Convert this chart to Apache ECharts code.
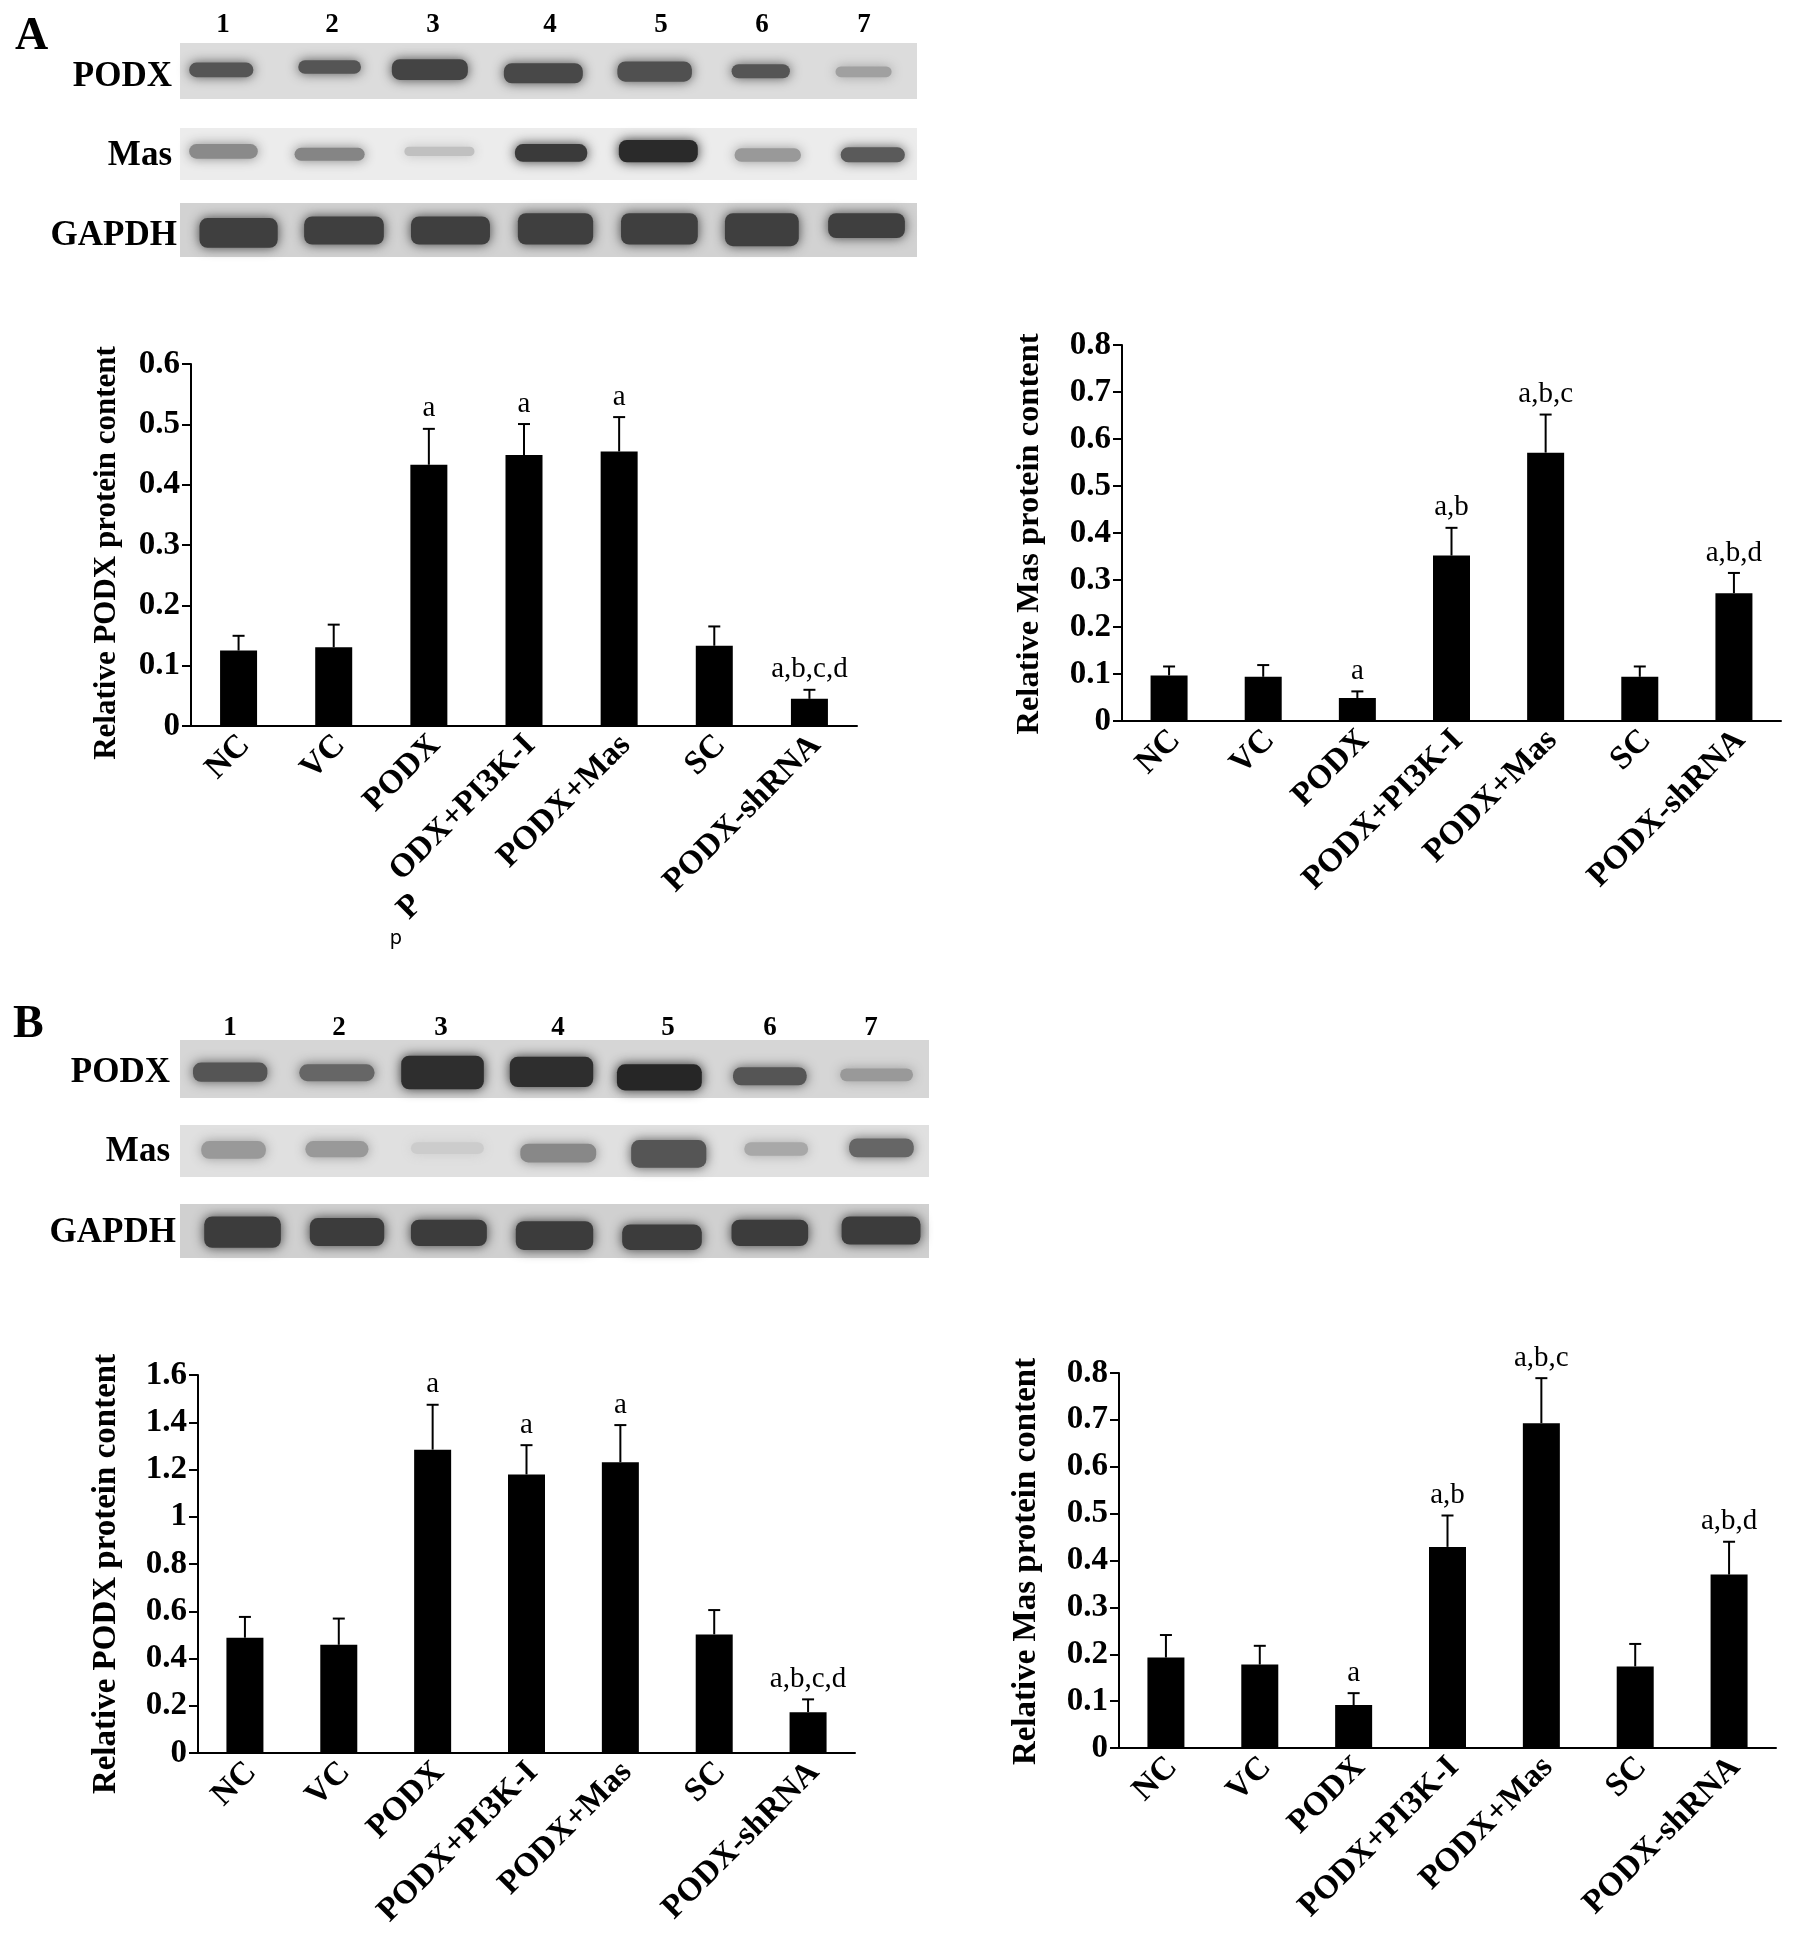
<!DOCTYPE html>
<html>
<head>
<meta charset="utf-8">
<title>PODX and Mas protein content</title>
<script src="https://cdn.jsdelivr.net/npm/echarts@6/dist/echarts.min.js"></script>
<style>
  html, body { margin: 0; padding: 0; background: #fff; }
  #main { width: 1795px; height: 1945px; }
</style>
</head>
<body>
<div id="main"></div>
<script>
// x axis labels
const categories = ['NC', 'VC', 'PODX', 'PODX+PI3K-I', 'PODX+Mas', 'SC', 'PODX-shRNA'];
// top left chart: the first letter of this label slipped away in the source picture
const categoriesA1 = ['NC', 'VC', 'PODX', 'ODX+PI3K-I', 'PODX+Mas', 'SC', 'PODX-shRNA'];

// panel A
const podxA = [0.125, 0.1305, 0.433, 0.449, 0.455, 0.133, 0.045];
const podxAErr = [0.1495, 0.168, 0.4925, 0.5005, 0.512, 0.165, 0.06];
const podxALetters = ['', '', 'a', 'a', 'a', '', 'a,b,c,d'];
const masA = [0.097, 0.094, 0.049, 0.352, 0.571, 0.094, 0.272];
const masAErr = [0.116, 0.119, 0.063, 0.411, 0.652, 0.116, 0.315];
const masALetters = ['', '', 'a', 'a,b', 'a,b,c', '', 'a,b,d'];

// panel B
const podxB = [0.488, 0.458, 1.284, 1.179, 1.231, 0.502, 0.173];
const podxBErr = [0.576, 0.569, 1.474, 1.303, 1.388, 0.605, 0.227];
const podxBLetters = ['', '', 'a', 'a', 'a', '', 'a,b,c,d'];
const masB = [0.193, 0.178, 0.0915, 0.429, 0.693, 0.174, 0.37];
const masBErr = [0.241, 0.218, 0.117, 0.496, 0.789, 0.222, 0.44];
const masBLetters = ['', '', 'a', 'a,b', 'a,b,c', '', 'a,b,d'];

// blot bands, in percent of the strip: [left, right, top, bottom, grey level]
const blotAPodx = [[0.7, 10.5, 35, 61, 85], [15.5, 25.1, 31, 55, 85], [28.2, 39.6, 29, 66, 68], [43.4, 55.2, 36, 72, 72], [58.8, 70, 33, 69, 80], [74.3, 83.3, 38, 63, 85], [88.4, 97.1, 42, 61, 160]];
const blotAMas = [[0.7, 11.1, 31, 59, 138], [15, 25.6, 38, 63, 133], [29.9, 40.5, 36, 54, 192], [44.9, 55.8, 31, 65, 58], [59, 70.8, 23, 66, 42], [74.7, 84.8, 39, 65, 153], [89.1, 98.9, 37, 66, 90]];
const blotAGapdh = [[2.1, 13.8, 28, 83, 63], [16.3, 28.2, 25, 77, 63], [30.8, 42.6, 25, 77, 63], [45.3, 56.6, 19, 77, 63], [59.3, 70.8, 19, 77, 63], [73.4, 84.5, 19, 80, 63], [87.4, 98.9, 19, 65, 63]];
const blotBPodx = [[1.2, 12.2, 39, 72, 85], [15.4, 26.5, 42, 71, 102], [29, 41.1, 27, 85, 46], [43.5, 55.7, 29, 81, 46], [57.8, 70.2, 42, 87, 38], [73.3, 84.2, 47, 78, 85], [87.6, 98.4, 49, 71, 153]];
const blotBMas = [[2.3, 12, 31, 65, 153], [16.2, 25.7, 31, 62, 153], [30.3, 41.1, 33, 56, 204], [44.9, 56.1, 36, 72, 136], [59.7, 70.8, 29, 82, 85], [74.8, 84.4, 33, 59, 168], [88.8, 98.5, 26, 62, 102]];
const blotBGapdh = [[2.7, 14, 23, 81, 60], [16.8, 27.8, 26, 78, 60], [30.3, 41.5, 29, 78, 60], [44.3, 55.7, 32, 85, 60], [58.5, 70.2, 38, 85, 60], [73.1, 84.4, 29, 78, 60], [87.8, 99.4, 23, 75, 60]];

const laneLabels = ['1', '2', '3', '4', '5', '6', '7'];

const serif = '"Liberation Serif", "Times New Roman", serif';
const grids = [];
const xAxes = [];
const yAxes = [];
const series = [];
const graphics = [];

function addText(text, x, y, size, align, extra) {
  graphics.push(Object.assign({
    type: 'text',
    x: x,
    y: y,
    silent: true,
    style: {
      text: text,
      fill: '#000',
      font: 'bold ' + size + 'px ' + serif,
      textAlign: align,
      textVerticalAlign: 'middle'
    }
  }, extra || {}));
}

// one strip of a western blot
function addStrip(left, top, width, height, bg, bands) {
  const idx = grids.length;
  grids.push({ left: left, top: top, width: width, height: height, show: true, backgroundColor: bg, borderWidth: 0 });
  xAxes.push({ gridIndex: idx, type: 'value', min: 0, max: 100, show: false });
  yAxes.push({ gridIndex: idx, type: 'value', min: 0, max: 100, inverse: true, show: false });
  series.push({
    type: 'custom',
    xAxisIndex: idx,
    yAxisIndex: idx,
    silent: true,
    clip: false,
    data: bands,
    renderItem: function (params, api) {
      const a = api.coord([api.value(0), api.value(2)]);
      const b = api.coord([api.value(1), api.value(3)]);
      const g = api.value(4);
      const color = 'rgb(' + g + ',' + g + ',' + g + ')';
      return {
        type: 'rect',
        shape: { x: a[0] + 4, y: a[1], width: b[0] - a[0] - 8, height: b[1] - a[1], r: 8 },
        style: { fill: color, shadowBlur: 12, shadowColor: color }
      };
    }
  });
}

// one bar chart with its error bars and letters
function addBars(left, top, width, height, yMax, yInterval, cats, title, nameGap, nameSize, nameShift, means, errs, letters) {
  const idx = grids.length;
  grids.push({ left: left, top: top, width: width, height: height });
  xAxes.push({
    gridIndex: idx,
    type: 'category',
    data: cats,
    axisLine: { lineStyle: { color: '#000', width: 2 } },
    axisTick: { length: 9, lineStyle: { color: '#000', width: 2 } },
    axisLabel: {
      interval: 0,
      rotate: 45,
      margin: 8,
      verticalAlign: 'top',
      lineHeight: 18,
      color: '#000',
      fontFamily: serif,
      fontWeight: 'bold',
      fontSize: 33
    }
  });
  yAxes.push({
    gridIndex: idx,
    type: 'value',
    min: 0,
    max: yMax,
    interval: yInterval,
    name: title,
    nameLocation: 'middle',
    nameRotate: 90,
    nameGap: nameGap,
    nameTextStyle: {
      color: '#000',
      fontFamily: serif,
      fontWeight: 'bold',
      fontSize: nameSize,
      padding: [0, nameShift, 0, 0]
    },
    splitLine: { show: false },
    axisLine: { show: true, lineStyle: { color: '#000', width: 2 } },
    axisTick: { show: true, length: 9, lineStyle: { color: '#000', width: 2 } },
    axisLabel: { margin: 11, color: '#000', fontFamily: serif, fontWeight: 'bold', fontSize: 33 }
  });
  series.push({
    type: 'bar',
    xAxisIndex: idx,
    yAxisIndex: idx,
    barWidth: 37,
    itemStyle: { color: '#000' },
    silent: true,
    data: means
  });
  series.push({
    type: 'custom',
    xAxisIndex: idx,
    yAxisIndex: idx,
    silent: true,
    z: 3,
    data: means.map(function (m, i) { return [i, m, errs[i], letters[i]]; }),
    renderItem: function (params, api) {
      const base = api.coord([api.value(0), api.value(1)]);
      const end = api.coord([api.value(0), api.value(2)]);
      const lineStyle = { stroke: '#000', lineWidth: 2 };
      return {
        type: 'group',
        children: [
          { type: 'line', shape: { x1: base[0], y1: base[1], x2: end[0], y2: end[1] }, style: lineStyle },
          { type: 'line', shape: { x1: end[0] - 6, y1: end[1], x2: end[0] + 6, y2: end[1] }, style: lineStyle },
          {
            type: 'text',
            x: end[0],
            y: end[1] - 20,
            style: {
              text: letters[params.dataIndex],
              fill: '#000',
              font: '29px ' + serif,
              textAlign: 'center',
              textVerticalAlign: 'middle'
            }
          }
        ]
      };
    }
  });
}

// panel A blots
addStrip(180, 43, 737, 56, '#dcdcdc', blotAPodx);
addStrip(180, 128, 737, 52, '#ececec', blotAMas);
addStrip(180, 203, 737, 54, '#d2d2d2', blotAGapdh);
// panel B blots
addStrip(180, 1040, 749, 58, '#d6d6d6', blotBPodx);
addStrip(180, 1125, 749, 52, '#e0e0e0', blotBMas);
addStrip(180, 1204, 749, 54, '#d0d0d0', blotBGapdh);

addBars(191, 364, 666, 362, 0.6, 0.1, categoriesA1, 'Relative PODX protein content', 69, 31, 16, podxA, podxAErr, podxALetters);
addBars(1122, 345, 659, 376, 0.8, 0.1, categories, 'Relative Mas protein content', 76, 32.5, 2, masA, masAErr, masALetters);
addBars(198, 1375, 657, 378, 1.6, 0.2, categories, 'Relative PODX protein content', 75, 33, 20, podxB, podxBErr, podxBLetters);
addBars(1119, 1373, 657, 375, 0.8, 0.1, categories, 'Relative Mas protein content', 76, 33, 2, masB, masBErr, masBLetters);

// panel letters, strip names and lane numbers
addText('A', 15, 37, 46, 'left');
addText('B', 13, 1025, 46, 'left');
[[77, 'PODX'], [156, 'Mas'], [236, 'GAPDH']].forEach(function (r) {
  addText(r[1], r[1] === 'GAPDH' ? 177 : 172, r[0], 35, 'right');
});
[[1073, 'PODX'], [1152, 'Mas'], [1233, 'GAPDH']].forEach(function (r) {
  addText(r[1], r[1] === 'GAPDH' ? 176 : 170, r[0], 35, 'right');
});
[223, 332, 433, 550, 661, 762, 864].forEach(function (x, i) { addText(laneLabels[i], x, 25, 27, 'center'); });
[230, 339, 441, 558, 668, 770, 871].forEach(function (x, i) { addText(laneLabels[i], x, 1028, 27, 'center'); });

// the stray letters under the top left chart
addText('P', 410, 907, 33, 'center', { rotation: Math.PI / 4 });
graphics.push({
  type: 'text',
  x: 396,
  y: 938,
  silent: true,
  style: { text: 'p', fill: '#000', font: '20px "Noto Sans"', textAlign: 'center', textVerticalAlign: 'middle' }
});

const myChart = echarts.init(document.getElementById('main'));
myChart.setOption({
  animation: false,
  backgroundColor: '#fff',
  grid: grids,
  xAxis: xAxes,
  yAxis: yAxes,
  series: series,
  graphic: graphics
});
</script>
</body>
</html>
